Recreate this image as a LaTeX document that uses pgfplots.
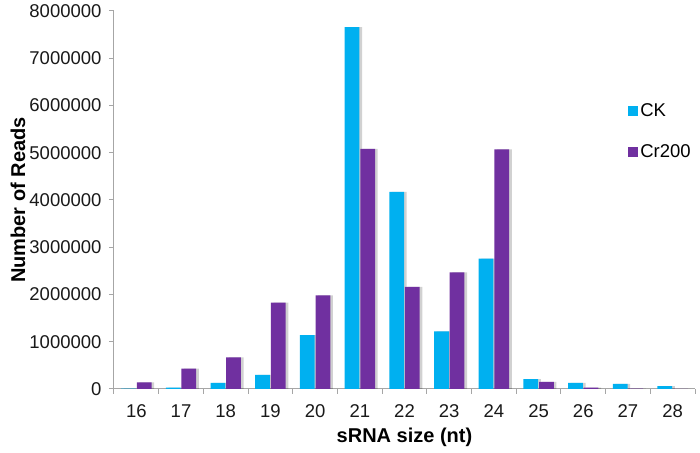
\documentclass[border=0pt]{standalone}
\usepackage{fontspec}
\setmainfont{Liberation Sans}
\usepackage{pgfplots}
\usepackage{pgfplotstable}
\pgfplotsset{compat=1.18}
\definecolor{ckc}{HTML}{00B0F0}
\definecolor{crc}{HTML}{7030A0}
\definecolor{axc}{HTML}{A6A6A6}
\pgfplotstableread{
x ck cr
0 10000 140000
1 30000 430000
2 130000 670000
3 300000 1830000
4 1140000 1980000
5 7660000 5080000
6 4170000 2160000
7 1220000 2470000
8 2760000 5070000
9 210000 150000
10 130000 30000
11 110000 10000
12 60000 0
}\datatab
\begin{document}
\begin{tikzpicture}
\begin{axis}[
 name=ax,
 scale only axis, width=581pt, height=378pt,
 xmin=-0.5, xmax=12.5, ymin=0, ymax=8000000,
 axis x line*=bottom, axis y line*=left,
 axis line style={axc, line width=1pt},
 xtick={-0.5,0.5,...,12.5},
 x tick label as interval,
 xticklabels={16,17,18,19,20,21,22,23,24,25,26,27,28},
 ytick={0,1000000,2000000,3000000,4000000,5000000,6000000,7000000,8000000},
 tick style={axc, line width=1pt},
 major tick length=5pt,
 tick align=outside,
 scaled y ticks=false,
 yticklabel style={/pgf/number format/fixed, /pgf/number format/1000 sep={}, xshift=-4pt},
 xticklabel style={yshift=-7pt},
 /pgf/number format/assume math mode=true,
 ticklabel style={font=\fontsize{18.5}{18.5}\selectfont, text=black!90},
 xlabel={sRNA size (nt)}, ylabel={Number of Reads},
 label style={font=\bfseries\fontsize{20}{20}\selectfont},
 xlabel style={at={(axis description cs:0.5,0)}, anchor=center, yshift=-48pt},
 ylabel style={at={(axis description cs:0,0.5)}, anchor=center, yshift=96pt},
 legend style={draw=none, fill=none, at={(0.885,0.76)}, anchor=north west,
   font=\fontsize{18.5}{18.5}\selectfont, inner sep=0pt, row sep=22pt},
 legend cell align=left,
 legend image code/.code={\fill[#1] (0pt,-5pt) rectangle (10pt,5pt);},
]
\addplot[ybar, bar width=0.33, bar shift=-0.115, fill=black, draw=none, opacity=0.18, forget plot] table[x=x,y=ck] {\datatab};
\addplot[ybar, bar width=0.33, bar shift=0.235, fill=black, draw=none, opacity=0.18, forget plot] table[x=x,y=cr] {\datatab};
\addplot[ybar, bar width=0.33, bar shift=-0.175, fill=ckc, draw=none] table[x=x,y=ck] {\datatab};
\addplot[ybar, bar width=0.33, bar shift=0.175, fill=crc, draw=none] table[x=x,y=cr] {\datatab};
\legend{CK,Cr200}
\end{axis}
\pgfresetboundingbox
\path ([xshift=-114pt, yshift=-64pt]ax.south west) rectangle ([xshift=5pt, yshift=11pt]ax.north east);
\end{tikzpicture}
\end{document}
